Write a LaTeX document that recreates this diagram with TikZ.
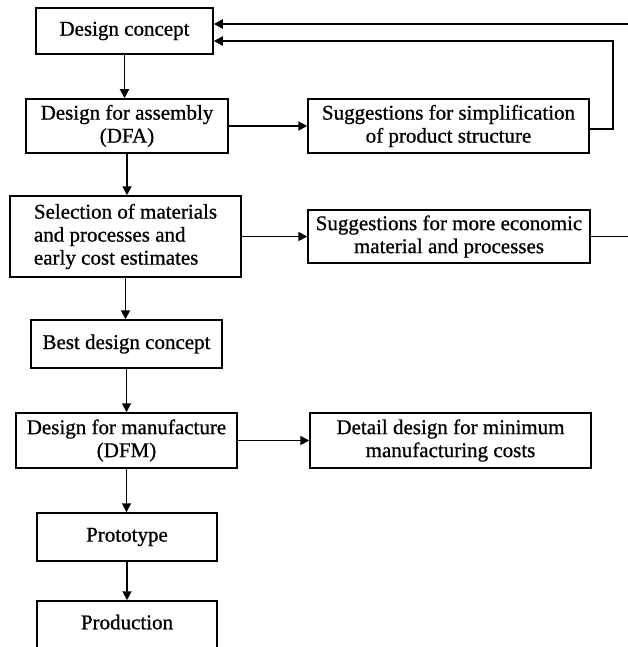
\documentclass[tikz,border=0pt]{standalone}
\usepackage{fontspec}
\setmainfont{Liberation Serif}[FakeBold=0.8]
\usetikzlibrary{arrows.meta}
\begin{document}
\begin{tikzpicture}[x=1pt,y=-1pt,
  box/.style={draw, line width=1.5pt, inner sep=0pt, align=center,
    font=\fontsize{21}{23}\selectfont},
  flow/.style={line width=1.8pt, -{Triangle[length=9pt,width=9pt]}},
  link/.style={line width=1.8pt}]
\useasboundingbox (0,0) rectangle (628,647);

% main column
\node[box, minimum width=177pt, minimum height=46pt] (dc)    at (124.5,31)  {Design concept};
\node[box, minimum width=202pt, minimum height=54pt] (dfa)   at (127,126)   {Design for assembly\\(DFA)};
\node[box, minimum width=231pt, minimum height=81pt, align=left] (sel) at (125.5,236.5)
  {Selection of materials\\and processes and\\early cost estimates};
\node[box, minimum width=191pt, minimum height=48pt] (best)  at (126.5,344) {Best design concept};
\node[box, minimum width=221pt, minimum height=55pt] (dfm)   at (126.5,440.5) {Design for manufacture\\(DFM)};
\node[box, minimum width=180pt, minimum height=48pt] (proto) at (127,537)   {Prototype};
\node[box, minimum width=180pt, minimum height=50pt, text depth=8pt] (prod) at (127,626) {Production};

% side column
\node[box, minimum width=281pt, minimum height=54pt] (simp) at (448.5,126)   {Suggestions for simplification\\of product structure};
\node[box, minimum width=282pt, minimum height=53pt] (econ) at (449,236.5)   {Suggestions for more economic\\material and processes};
\node[box, minimum width=281pt, minimum height=55pt] (det)  at (450.5,440.5) {Detail design for minimum\\manufacturing costs};

% downward flow
\draw[flow] (dc.south)    -- (dc.south |- dfa.north);
\draw[flow] (dfa.south)   -- (dfa.south |- sel.north);
\draw[flow] (sel.south)   -- (sel.south |- best.north);
\draw[flow] (best.south)  -- (best.south |- dfm.north);
\draw[flow] (dfm.south)   -- (dfm.south |- proto.north);
\draw[flow] (proto.south) -- (proto.south |- prod.north);

% sideways flow
\draw[flow] (dfa) -- (simp);
\draw[flow] (sel.east |- econ.west) -- (econ.west);
\draw[flow] (dfm) -- (det);

% feedback loops
\coordinate (outTop)  at (628,24);
\coordinate (outEcon) at (628,236.5);
\coordinate (loopR)   at (613,41);
\draw[flow] (outTop) -- (outTop -| dc.east);
\draw[flow] ([yshift=-3pt]simp.east) -| (loopR) -- (loopR -| dc.east);
\draw[link] (econ.east) -- (outEcon);
\end{tikzpicture}
\end{document}
